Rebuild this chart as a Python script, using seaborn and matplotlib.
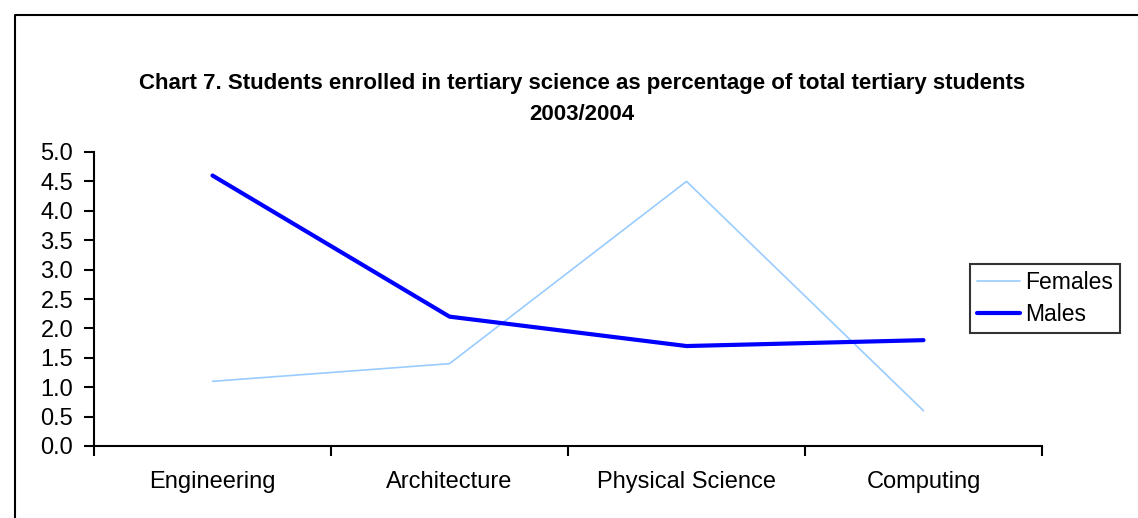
import pandas as pd
import seaborn as sns
import matplotlib
matplotlib.use("Agg")
import matplotlib.pyplot as plt
from matplotlib.lines import Line2D

# Chart data
categories = ["Engineering", "Architecture", "Physical Science", "Computing"]
females = [1.1, 1.4, 4.5, 0.6]
males = [4.6, 2.2, 1.7, 1.8]
y_ticks = [0.0, 0.5, 1.0, 1.5, 2.0, 2.5, 3.0, 3.5, 4.0, 4.5, 5.0]

title = ("Chart 7. Students enrolled in tertiary science as percentage of total tertiary students\n"
         "2003/2004")

sns.set_theme(style="white")
plt.rcParams["font.family"] = ["Liberation Sans", "DejaVu Sans"]
plt.rcParams["text.color"] = "black"

df = pd.DataFrame({
    "category": categories * 2,
    "value": females + males,
    "series": ["Females"] * len(categories) + ["Males"] * len(categories),
})

fig = plt.figure(figsize=(11.38, 5.18), dpi=100)
ax = fig.add_axes([94 / 1138, 1 - 446 / 518, (1042 - 94) / 1138, (446 - 152) / 518])

sns.lineplot(
    data=df, x="category", y="value", hue="series", size="series",
    palette={"Females": "#99CCFF", "Males": "#0000FF"},
    sizes={"Females": 1.2, "Males": 3.0},
    sort=False, ax=ax, legend=True,
)

ax.set_xlim(-0.5, len(categories) - 0.5)
ax.set_ylim(0, 5.0)
ax.set_yticks(y_ticks)
ax.set_yticklabels([f"{v:.1f}" for v in y_ticks], fontsize=17)

# boundary ticks on the category axis, labels in the middle
ax.set_xticks([i - 0.5 for i in range(len(categories) + 1)])
ax.set_xticklabels([])
ax.set_xticks(range(len(categories)), minor=True)
ax.set_xticklabels(categories, minor=True, fontsize=17)
ax.tick_params(axis="x", which="minor", bottom=True, length=0, pad=18, labelcolor="black")
ax.tick_params(axis="both", which="major", bottom=True, left=True, direction="out",
               length=7, width=1.5, color="black", labelcolor="black")
ax.tick_params(axis="y", pad=8)

ax.set_xlabel("")
ax.set_ylabel("")
for side in ["top", "right"]:
    ax.spines[side].set_visible(False)
for side in ["left", "bottom"]:
    ax.spines[side].set_color("black")
    ax.spines[side].set_linewidth(1.5)
ax.grid(False)

leg = ax.legend(
    loc="upper left", bbox_to_anchor=(970 / 1138, 1 - 264 / 518),
    bbox_transform=fig.transFigure, fontsize=16.5, frameon=True, fancybox=False,
    handlelength=1.9, handletextpad=0.2, borderpad=0.3, labelspacing=0.4,
    borderaxespad=0, title=None,
)
leg.get_frame().set_edgecolor("black")
leg.get_frame().set_linewidth(1.5)
for t in leg.get_texts():
    t.set_color("black")

fig.text(582 / 1138, 1 - 99 / 518, title, ha="center", va="center",
         multialignment="center", fontsize=16, fontweight="bold", linespacing=1.6,
         color="black")

# outer chart border (top and left edges visible)
fig.add_artist(Line2D([15 / 1138, 15 / 1138, 1.0], [0.0, 1 - 15 / 518, 1 - 15 / 518],
                      transform=fig.transFigure, color="black", linewidth=1.5))

fig.savefig("out.png", dpi=100)
